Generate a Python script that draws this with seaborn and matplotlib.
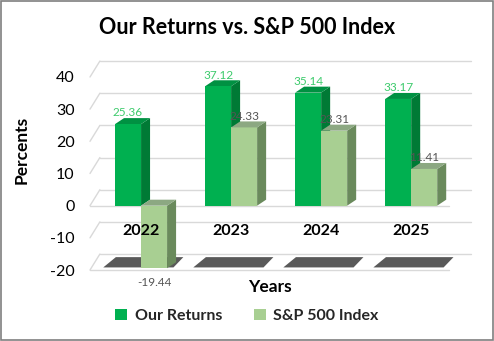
import matplotlib
matplotlib.use("Agg")
import matplotlib.pyplot as plt
from matplotlib.patches import Polygon, Rectangle, Patch
import seaborn as sns
import pandas as pd

years = ["2022", "2023", "2024", "2025"]
our_returns = [25.36, 37.12, 35.14, 33.17]
sp500 = [-19.44, 24.33, 23.31, 11.41]
series = ["Our Returns", "S&P 500 Index"]
y_ticks = [-20, -10, 0, 10, 20, 30, 40]

front_col = {"Our Returns": "#00B050", "S&P 500 Index": "#A8CF92"}
side_col = {"Our Returns": "#007A35", "S&P 500 Index": "#6A8A5C"}
top_col = {"Our Returns": "#009142", "S&P 500 Index": "#8CA882"}
label_col = {"Our Returns": "#3DCB6C", "S&P 500 Index": "#555555"}

df = pd.DataFrame({
    "Year": years * 2,
    "Series": [series[0]] * 4 + [series[1]] * 4,
    "Value": our_returns + sp500,
})

sns.set_theme(style="white")
plt.rcParams["font.family"] = ["Lato", "DejaVu Sans"]

W, H = 494, 341
fig = plt.figure(figsize=(W / 100, H / 100), dpi=100)
ax = fig.add_axes([90 / W, 1 - 270 / H, 359 / W, 193 / H])

sns.barplot(data=df, x="Year", y="Value", hue="Series", palette=front_col,
            width=0.578, gap=0, dodge=True, legend=False, ax=ax,
            saturation=1, linewidth=0, zorder=3)

ax.set_ylim(-20, 40)
ax.set_xlim(-0.567, 3.42)
xl, xr = ax.get_xlim()

# 3D depth (data units)
dx, dy = 0.10, 1.86
wall_dxl, wall_dxr, wall_dy = 0.11, 0.245, 4.97

# back-wall gridlines
for t in y_ticks:
    ax.plot([xl, xl + wall_dxl], [t, t + wall_dy], color="#D9D9D9", lw=1, zorder=0, clip_on=False)
    ax.plot([xl + wall_dxl, xr + wall_dxr], [t + wall_dy, t + wall_dy], color="#D9D9D9", lw=1,
            zorder=0, clip_on=False)
for t in (0, -20):
    ax.plot([xl, xr], [t, t], color="#D9D9D9", lw=1, zorder=0.5, clip_on=False)

# floor shadows under each category
for i in range(len(years)):
    poly = [(i - 0.42, -19.2), (i + 0.36, -19.2), (i + 0.47, -16.0), (i - 0.28, -16.0)]
    ax.add_patch(Polygon(poly, closed=True, facecolor="#595959", edgecolor="none",
                         zorder=1, clip_on=False))

# 3D faces + labels
bars = [b for b in ax.patches if isinstance(b, Rectangle)][:8]
for k, b in enumerate(bars):
    s = series[0] if k < 4 else series[1]
    val = df["Value"].iloc[k]
    x0 = b.get_x()
    x1 = x0 + b.get_width()
    ylo = min(b.get_y(), b.get_y() + b.get_height())
    yhi = max(b.get_y(), b.get_y() + b.get_height())
    zf = 2.2 if s == series[0] else 3.5
    b.set_zorder(3 if s == series[0] else 3.4)
    side = [(x1, ylo), (x1, yhi), (x1 + dx, yhi + dy), (x1 + dx, ylo + dy)]
    top = [(x0, yhi), (x1, yhi), (x1 + dx, yhi + dy), (x0 + dx, yhi + dy)]
    ax.add_patch(Polygon(side, closed=True, facecolor=side_col[s], edgecolor="none",
                         zorder=zf, clip_on=False))
    ax.add_patch(Polygon(top, closed=True, facecolor=top_col[s], edgecolor="none",
                         zorder=zf, clip_on=False))
    cx = (x0 + x1) / 2
    if val >= 0:
        ax.annotate(f"{val:.2f}", (cx, yhi), xytext=(0, 8), textcoords="offset points",
                    ha="center", va="center", fontsize=8.5, color=label_col[s], zorder=6)
    else:
        ax.annotate(f"{val:.2f}", (cx, ylo), xytext=(0, -10.5), textcoords="offset points",
                    ha="center", va="center", fontsize=8.5, color=label_col[s], zorder=6)

sns.despine(ax=ax, left=True, bottom=True)
ax.set_yticks(y_ticks)
ax.set_yticklabels([str(t) for t in y_ticks], fontsize=11.5, color="#000000")
ax.tick_params(axis="y", length=0, pad=11)
ax.set_xticks(range(len(years)))
ax.set_xticklabels(years, fontsize=11.5, fontweight="bold", color="#000000")
ax.tick_params(axis="x", length=0, pad=-33)
ax.set_xlabel("")
ax.set_ylabel("")
ax.grid(False)
ax.set_facecolor("none")
ax.xaxis.set_zorder(10)

fig.text(0.5, 1 - 27 / H, "Our Returns vs. S&P 500 Index", ha="center", va="center",
         fontsize=15.5, fontweight="bold", color="#000000")
fig.text(270 / W, 1 - 287 / H, "Years", ha="center", va="center",
         fontsize=12.5, fontweight="bold", color="#000000")
fig.text(22 / W, 1 - 150 / H, "Percents", ha="center", va="center", rotation=90,
         fontsize=12.5, fontweight="bold", color="#000000")

handles = [Patch(facecolor=front_col[s], edgecolor="none") for s in series]
leg = fig.legend(handles, series, loc="center", bbox_to_anchor=(0.5, 1 - 316 / H), ncol=2,
                 frameon=False, handlelength=0.75, handleheight=0.75, handletextpad=0.45,
                 columnspacing=2.0, prop={"weight": "bold", "size": 11.5})

fig.patches.append(Rectangle((0.002, 0.003), 0.995, 0.994, transform=fig.transFigure,
                             fill=False, edgecolor="#7F7F7F", lw=1.2))

fig.savefig("out.png", dpi=100, facecolor="white")
